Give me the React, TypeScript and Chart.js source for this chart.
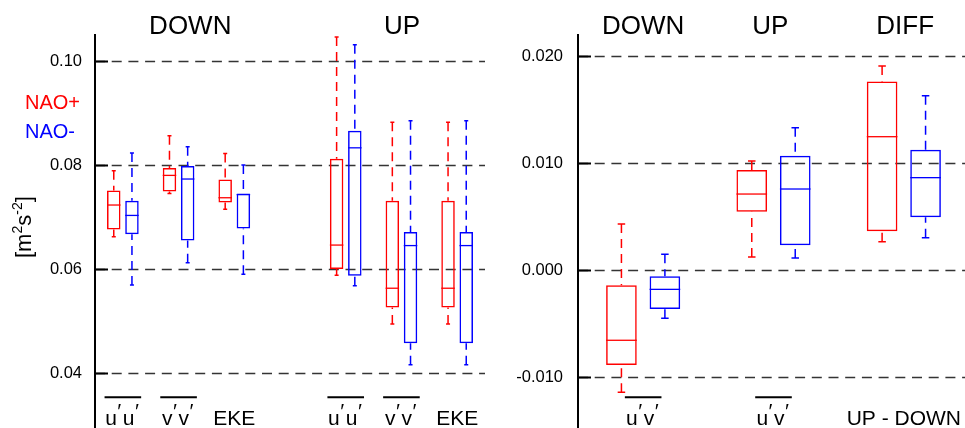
import React, { useEffect, useRef } from 'react';
import { Chart, registerables } from 'chart.js';

Chart.register(...registerables);

const FONT = '"Liberation Sans", Arial, Helvetica, sans-serif';
const RED = '#ff0000';
const BLUE = '#0000ff';

// ---------- Left panel data ----------
const leftCategories = ['u′u′', 'v′v′', 'EKE', '', 'u′u′', 'v′v′', 'EKE'];
const leftTitles = ['DOWN', 'UP'];
const leftTitlePos = [1.21, 5.01];
const leftTicks = [0.04, 0.06, 0.08, 0.1];
const leftRange = [0.02942, 0.10519];

const leftPlusMin = [0.0662, 0.0745, 0.0715, null, 0.0588, 0.0494, 0.0494];
const leftPlusQ1 = [0.0676, 0.0749, 0.0728, null, 0.06, 0.0526, 0.0526];
const leftPlusMed = [0.0723, 0.078, 0.0737, null, 0.0646, 0.0563, 0.0563];
const leftPlusQ3 = [0.0751, 0.0794, 0.0772, null, 0.0812, 0.0731, 0.0731];
const leftPlusMax = [0.0789, 0.0856, 0.0822, null, 0.1046, 0.0882, 0.0882];

const leftMinusMin = [0.0569, 0.0612, 0.059, null, 0.0568, 0.0416, 0.0416];
const leftMinusQ1 = [0.0667, 0.0655, 0.0678, null, 0.0587, 0.0457, 0.0457];
const leftMinusMed = [0.0703, 0.0773, 0.0743, null, 0.0833, 0.0645, 0.0645];
const leftMinusQ3 = [0.0731, 0.0798, 0.0745, null, 0.0866, 0.0671, 0.0671];
const leftMinusMax = [0.0823, 0.0835, 0.08, null, 0.1031, 0.0885, 0.0885];

// ---------- Right panel data ----------
const rightCategories = ['u′v′', 'u′v′', 'UP - DOWN'];
const rightTitles = ['DOWN', 'UP', 'DIFF'];
const rightTitlePos = [0.0, 0.975, 2.01];
const rightTicks = [-0.01, 0.0, 0.01, 0.02];
const rightRange = [-0.01477, 0.02206];

const rightPlusMin = [-0.01143, 0.00121, 0.00265];
const rightPlusQ1 = [-0.00888, 0.00545, 0.00361];
const rightPlusMed = [-0.00657, 0.0071, 0.01246];
const rightPlusQ3 = [-0.00143, 0.00935, 0.01763];
const rightPlusMax = [0.0043, 0.01019, 0.01907];

const rightMinusMin = [-0.00452, 0.00112, 0.00302];
const rightMinusQ1 = [-0.00364, 0.00231, 0.00492];
const rightMinusMed = [-0.00181, 0.00757, 0.00863];
const rightMinusQ3 = [-0.00059, 0.01068, 0.01124];
const rightMinusMax = [0.00146, 0.0133, 0.01629];

const legendNames = ['NAO+', 'NAO-'];

function catX(chart: any, v: number) {
  const xs = chart.scales.x;
  const p0 = xs.getPixelForValue(0);
  const p1 = xs.getPixelForValue(1);
  return p0 + v * (p1 - p0);
}

function drawLabel(ctx: CanvasRenderingContext2D, label: string, cx: number, baseY: number) {
  ctx.save();
  ctx.font = `21px ${FONT}`;
  ctx.fillStyle = '#000';
  ctx.textBaseline = 'alphabetic';
  if (!label.includes('′')) {
    ctx.textAlign = 'center';
    ctx.fillText(label, cx, baseY);
    ctx.restore();
    return;
  }
  const parts = Array.from(label);
  const PRIME_W = 6;
  let total = 0;
  parts.forEach((c) => {
    total += c === '′' ? PRIME_W : ctx.measureText(c).width;
  });
  let x = cx - total / 2;
  ctx.textAlign = 'left';
  parts.forEach((c) => {
    if (c === '′') {
      ctx.fillText('′', x + 0.5, baseY - 7);
      x += PRIME_W;
    } else {
      ctx.fillText(c, x, baseY);
      x += ctx.measureText(c).width;
    }
  });
  ctx.beginPath();
  ctx.lineWidth = 2;
  ctx.strokeStyle = '#000';
  ctx.moveTo(cx - 18.3, baseY - 27.7);
  ctx.lineTo(cx + 18.3, baseY - 27.7);
  ctx.stroke();
  ctx.restore();
}

const boxPlugin = {
  id: 'boxExtras',
  beforeDatasetsDraw(chart: any) {
    const { ctx, chartArea } = chart;
    const y = chart.scales.y;
    ctx.save();
    ctx.strokeStyle = 'rgba(30,30,30,0.9)';
    ctx.lineWidth = 1.5;
    ctx.setLineDash([10, 6.7]);
    y.ticks.forEach((t: any) => {
      const py = Math.round(y.getPixelForValue(t.value)) + 0.5;
      ctx.beginPath();
      ctx.moveTo(chartArea.left, py);
      ctx.lineTo(chartArea.right, py);
      ctx.stroke();
    });
    ctx.restore();
  },
  afterDatasetsDraw(chart: any, _args: any, opts: any) {
    const { ctx } = chart;
    const y = chart.scales.y;
    const capW = opts.capWidth || 4;
    chart.data.datasets.forEach((ds: any, di: number) => {
      const meta = chart.getDatasetMeta(di);
      meta.data.forEach((bar: any, i: number) => {
        const mn = ds.statMin[i];
        if (mn === null || mn === undefined) return;
        const { x, width } = bar.getProps(['x', 'width'], true);
        const pMin = y.getPixelForValue(mn);
        const pMax = y.getPixelForValue(ds.statMax[i]);
        const pMed = y.getPixelForValue(ds.statMed[i]);
        const pQ1 = y.getPixelForValue(ds.data[i][0]);
        const pQ3 = y.getPixelForValue(ds.data[i][1]);
        ctx.save();
        ctx.strokeStyle = ds.borderColor;
        // median
        ctx.lineWidth = 1.3;
        ctx.beginPath();
        ctx.moveTo(x - width / 2, pMed);
        ctx.lineTo(x + width / 2, pMed);
        ctx.stroke();
        // whiskers
        ctx.lineWidth = 1.5;
        ctx.setLineDash([9, 6]);
        ctx.beginPath();
        ctx.moveTo(x, pMax);
        ctx.lineTo(x, pQ3);
        ctx.moveTo(x, pMin);
        ctx.lineTo(x, pQ1);
        ctx.stroke();
        // caps
        ctx.setLineDash([]);
        ctx.beginPath();
        ctx.moveTo(x - capW / 2, pMax);
        ctx.lineTo(x + capW / 2, pMax);
        ctx.moveTo(x - capW / 2, pMin);
        ctx.lineTo(x + capW / 2, pMin);
        ctx.stroke();
        ctx.restore();
      });
    });
  },
  afterDraw(chart: any, _args: any, opts: any) {
    const { ctx, chartArea } = chart;
    const y = chart.scales.y;
    ctx.save();
    // axis line
    ctx.strokeStyle = '#000';
    ctx.lineWidth = 2;
    ctx.beginPath();
    ctx.moveTo(chartArea.left, chartArea.top);
    ctx.lineTo(chartArea.left, chartArea.bottom);
    ctx.stroke();
    // tick marks (inside)
    y.ticks.forEach((t: any) => {
      const py = Math.round(y.getPixelForValue(t.value)) + 0.5;
      ctx.beginPath();
      ctx.moveTo(chartArea.left, py);
      ctx.lineTo(chartArea.left + 13, py);
      ctx.stroke();
    });
    // titles
    ctx.fillStyle = '#000';
    ctx.font = `26px ${FONT}`;
    ctx.textAlign = 'center';
    ctx.textBaseline = 'alphabetic';
    opts.titles.forEach((t: string, i: number) => {
      ctx.fillText(t, catX(chart, opts.titlePos[i]), chartArea.top);
    });
    ctx.restore();
    // category labels
    chart.data.labels.forEach((lab: string, i: number) => {
      if (!lab) return;
      drawLabel(ctx, lab, catX(chart, i), chartArea.bottom - 3);
    });
    if (opts.legend) {
      ctx.save();
      ctx.font = `20px ${FONT}`;
      ctx.textAlign = 'left';
      ctx.textBaseline = 'alphabetic';
      ctx.fillStyle = RED;
      ctx.fillText(legendNames[0], 25, 109);
      ctx.fillStyle = BLUE;
      ctx.fillText(legendNames[1], 25, 138);
      ctx.restore();
      // y title [m²s⁻²]
      ctx.save();
      ctx.translate(31, 258);
      ctx.rotate(-Math.PI / 2);
      ctx.fillStyle = '#000';
      ctx.textAlign = 'left';
      ctx.textBaseline = 'alphabetic';
      const seg = (txt: string, size: number, dy: number, x: number) => {
        ctx.font = `${size}px ${FONT}`;
        ctx.fillText(txt, x, dy);
        return x + ctx.measureText(txt).width;
      };
      let x = 0;
      x = seg('[m', 22, 0, x);
      x = seg('2', 14, -9, x);
      x = seg('s', 22, 0, x);
      x = seg('-2', 14, -9, x);
      seg(']', 22, 0, x);
      ctx.restore();
    }
  },
};

function makeConfig(p: any) {
  const mk = (
    label: string,
    color: string,
    q1: (number | null)[],
    q3: (number | null)[],
    mn: (number | null)[],
    med: (number | null)[],
    mx: (number | null)[]
  ) => ({
    label,
    data: q1.map((v, i) => (v === null ? null : [v, q3[i]])),
    statMin: mn,
    statMed: med,
    statMax: mx,
    backgroundColor: 'rgba(0,0,0,0)',
    borderColor: color,
    borderWidth: 1.5,
    borderSkipped: false,
    barPercentage: p.barPct,
    categoryPercentage: p.catPct,
  });
  return {
    type: 'bar',
    data: {
      labels: p.categories,
      datasets: [
        mk(legendNames[0], RED, p.plus[1], p.plus[3], p.plus[0], p.plus[2], p.plus[4]),
        mk(legendNames[1], BLUE, p.minus[1], p.minus[3], p.minus[0], p.minus[2], p.minus[4]),
      ],
    },
    options: {
      responsive: false,
      animation: false,
      devicePixelRatio: 1,
      layout: { padding: { top: 34, bottom: 0, left: 0, right: p.padRight } },
      plugins: {
        legend: { display: false },
        tooltip: { enabled: false },
        boxExtras: {
          capWidth: p.capWidth,
          titles: p.titles,
          titlePos: p.titlePos,
          legend: p.legend,
        },
      },
      scales: {
        x: { display: false },
        y: {
          min: p.range[0],
          max: p.range[1],
          grid: { display: false, drawTicks: false, tickLength: 0 },
          border: { display: false },
          ticks: {
            padding: p.tickPad,
            color: '#000',
            font: { family: FONT, size: p.tickSize },
            callback: (v: number) => Number(v).toFixed(p.decimals),
          },
          afterBuildTicks: (scale: any) => {
            scale.ticks = p.ticks.map((v: number) => ({ value: v }));
          },
          afterFit: (scale: any) => {
            scale.width = p.axisWidth;
            scale.paddingTop = 0;
            scale.paddingBottom = 0;
          },
        },
      },
    },
    plugins: [boxPlugin],
  };
}

function Panel(props: { config: any; width: number; left: number }) {
  const ref = useRef<HTMLCanvasElement | null>(null);
  useEffect(() => {
    if (!ref.current) return;
    const chart = new Chart(ref.current, props.config);
    return () => chart.destroy();
  }, []);
  return (
    <canvas
      ref={ref}
      width={props.width}
      height={428}
      style={{ position: 'absolute', left: props.left, top: 0, width: props.width, height: 428 }}
    />
  );
}

const leftConfig = makeConfig({
  categories: leftCategories,
  titles: leftTitles,
  titlePos: leftTitlePos,
  ticks: leftTicks,
  range: leftRange,
  decimals: 2,
  plus: [leftPlusMin, leftPlusQ1, leftPlusMed, leftPlusQ3, leftPlusMax],
  minus: [leftMinusMin, leftMinusQ1, leftMinusMed, leftMinusQ3, leftMinusMax],
  barPct: 0.742,
  catPct: 0.653,
  capWidth: 4,
  axisWidth: 95,
  padRight: 5,
  tickPad: 13,
  tickSize: 16.5,
  legend: true,
});

const rightConfig = makeConfig({
  categories: rightCategories,
  titles: rightTitles,
  titlePos: rightTitlePos,
  ticks: rightTicks,
  range: rightRange,
  decimals: 3,
  plus: [rightPlusMin, rightPlusQ1, rightPlusMed, rightPlusQ3, rightPlusMax],
  minus: [rightMinusMin, rightMinusQ1, rightMinusMed, rightMinusQ3, rightMinusMax],
  barPct: 0.705,
  catPct: 0.667,
  capWidth: 7.5,
  axisWidth: 88,
  padRight: 1,
  tickPad: 15,
  tickSize: 16.5,
  legend: false,
});

export default function App() {
  return (
    <div
      style={{
        position: 'fixed',
        left: 0,
        top: 0,
        width: 965,
        height: 428,
        overflow: 'hidden',
        background: '#fff',
      }}
    >
      <Panel config={leftConfig} width={490} left={0} />
      <Panel config={rightConfig} width={480} left={490} />
    </div>
  );
}
